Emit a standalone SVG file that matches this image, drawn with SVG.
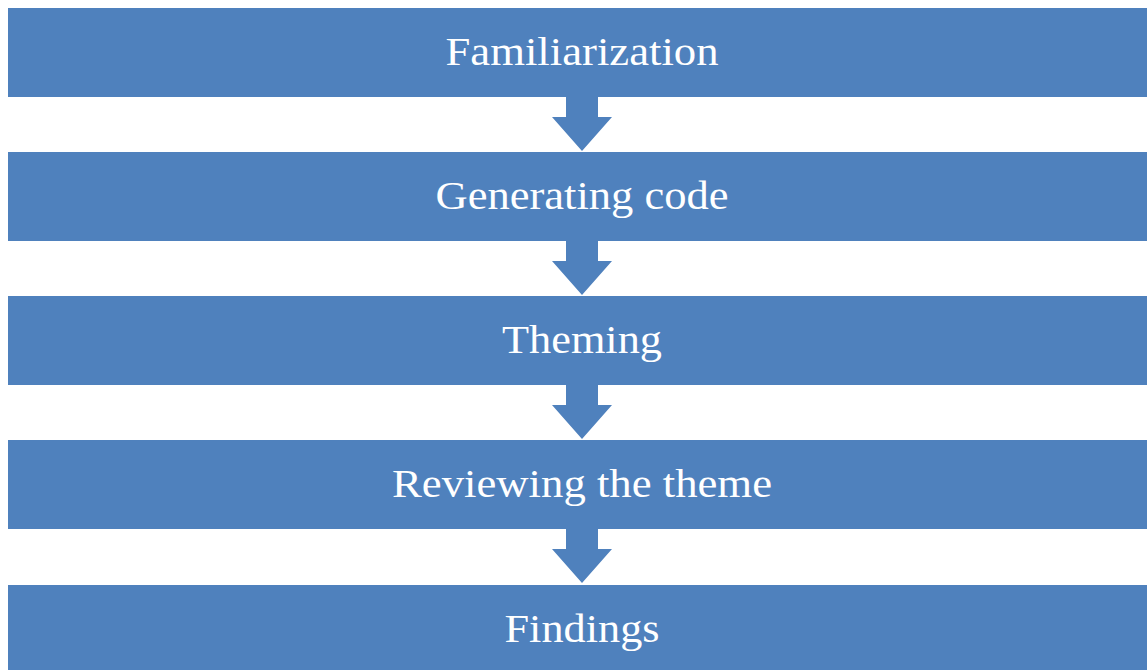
<svg xmlns="http://www.w3.org/2000/svg" width="1147" height="670" viewBox="0 0 1147 670">
<style>
.box{fill:#4F81BD}
.lbl{fill:#ffffff;font-family:"Liberation Serif","DejaVu Serif",serif;font-size:40px;text-anchor:middle}
.arr{fill:#4F81BD}
</style>
<defs>
<path id="arrow" d="M566,97 H598 V117 H612 L582,151 L552,117 H566 Z"/>
</defs>
<rect width="1147" height="670" fill="#ffffff"/>
<g id="connectors">
<use href="#arrow" class="arr"/>
<use href="#arrow" class="arr" transform="translate(0,144)"/>
<use href="#arrow" class="arr" transform="translate(0,288)"/>
<use href="#arrow" class="arr" transform="translate(0,432)"/>
</g>
<g id="n1"><rect class="box" x="8" y="8" width="1139" height="89"/><text class="lbl" x="582" y="65" textLength="273" lengthAdjust="spacingAndGlyphs">Familiarization</text></g>
<g id="n2"><rect class="box" x="8" y="152" width="1139" height="89"/><text class="lbl" x="582" y="209" textLength="293" lengthAdjust="spacingAndGlyphs">Generating code</text></g>
<g id="n3"><rect class="box" x="8" y="296" width="1139" height="89"/><text class="lbl" x="582" y="353" textLength="160" lengthAdjust="spacingAndGlyphs">Theming</text></g>
<g id="n4"><rect class="box" x="8" y="440" width="1139" height="89"/><text class="lbl" x="582" y="497" textLength="380" lengthAdjust="spacingAndGlyphs">Reviewing the theme</text></g>
<g id="n5"><rect class="box" x="8" y="585" width="1139" height="89"/><text class="lbl" x="582" y="642" textLength="155" lengthAdjust="spacingAndGlyphs">Findings</text></g>
</svg>
